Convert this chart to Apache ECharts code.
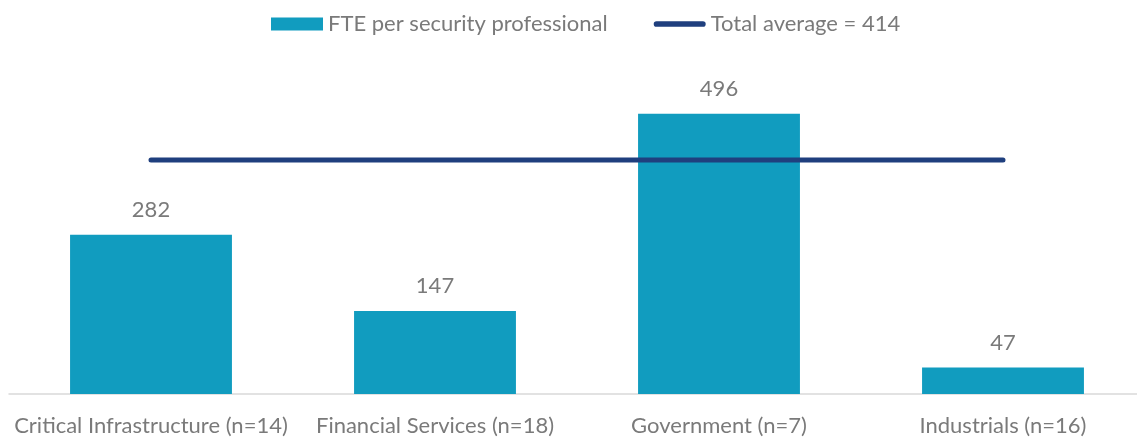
<!DOCTYPE html>
<html>
<head>
<meta charset="utf-8">
<script src="https://cdn.jsdelivr.net/npm/echarts@6/dist/echarts.min.js"></script>
<style>
  html, body { margin: 0; padding: 0; background: #ffffff; }
  #chart { width: 1137px; height: 439px; }
</style>
</head>
<body>
<div id="chart"></div>
<script>
// Sectors and their FTE per security professional
const categories = [
  'Critical Infrastructure (n=14)',
  'Financial Services (n=18)',
  'Government (n=7)',
  'Industrials (n=16)'
];
const fteValues = [282, 147, 496, 47];
const totalAverage = 414;
const averageLine = [totalAverage, totalAverage, totalAverage, totalAverage];

const barName = 'FTE per security professional';
const lineName = 'Total average = ' + totalAverage;

const textFont = 'Lato, "Open Sans", sans-serif';
const textColor = '#7a7a7a';
const barColor = '#119cbf';
const lineColor = '#1f3f7e';

// thick rounded stroke used as the legend mark of the average line
const lineIcon = 'path://M3,0 H52 A3,3 0 0 1 52,6 H3 A3,3 0 0 1 3,0 Z';

const chart = echarts.init(document.getElementById('chart'));
chart.setOption({
  animation: false,
  backgroundColor: '#ffffff',
  legend: {
    top: 8,
    left: 266,
    itemGap: 46,
    itemWidth: 52,
    itemHeight: 13,
    textStyle: { fontFamily: textFont, fontSize: 22, color: textColor },
    data: [
      { name: barName, icon: 'rect', itemStyle: { color: barColor } },
      { name: lineName, icon: lineIcon, itemStyle: { color: lineColor } }
    ]
  },
  grid: {
    left: 9,
    width: 1136,
    top: 55,
    bottom: 45,
    containLabel: false,
    outerBoundsMode: 'none'
  },
  xAxis: {
    type: 'category',
    data: categories,
    boundaryGap: true,
    axisLine: { lineStyle: { color: '#d9d9d9', width: 1.5 } },
    axisTick: { show: false },
    axisLabel: {
      fontFamily: textFont,
      fontSize: 22,
      color: textColor,
      margin: 21,
      interval: 0
    }
  },
  yAxis: {
    type: 'value',
    min: 0,
    max: 600,
    show: false,
    splitLine: { show: false }
  },
  series: [
    {
      name: barName,
      type: 'bar',
      data: fteValues,
      barCategoryGap: '43%',
      itemStyle: { color: barColor },
      label: {
        show: true,
        position: 'top',
        distance: 14,
        fontFamily: textFont,
        fontSize: 22,
        color: textColor
      }
    },
    {
      name: lineName,
      type: 'line',
      data: averageLine,
      symbol: 'none',
      lineStyle: { color: lineColor, width: 5, cap: 'round' },
      itemStyle: { color: lineColor },
      z: 5
    }
  ]
});
</script>
</body>
</html>
